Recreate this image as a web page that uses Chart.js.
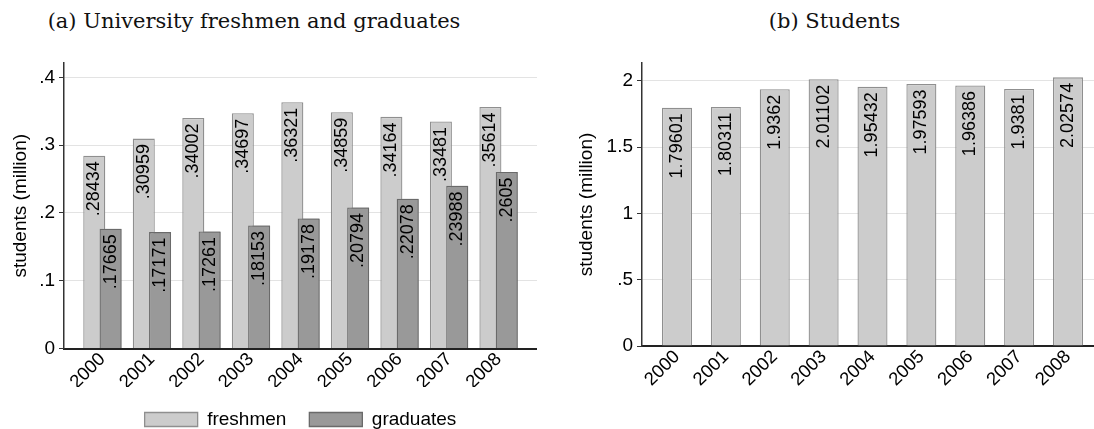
<!DOCTYPE html>
<html><head><meta charset="utf-8">
<script src="https://cdn.jsdelivr.net/npm/chart.js@4.4.1/dist/chart.umd.min.js"></script>
<style>
html,body{margin:0;padding:0;width:1094px;height:429px;overflow:hidden;background:#fff;}
#wrap{position:relative;width:1094px;height:429px;overflow:hidden;}
canvas{position:absolute;top:0;}
.ttl{position:absolute;width:600px;text-align:center;font-family:"DejaVu Serif",serif;font-size:21px;line-height:24px;color:#111;white-space:nowrap;}
</style></head><body>
<div id="wrap">
<div class="ttl" style="left:-46px;top:9px">(a) University freshmen and graduates</div>
<div class="ttl" style="left:534.5px;top:9px">(b) Students</div>
<canvas id="c1" width="537" height="439" style="left:0"></canvas>
<canvas id="c2" width="556" height="429" style="left:547px"></canvas>
</div>
<script>
// ---- data ----
const years = [2000, 2001, 2002, 2003, 2004, 2005, 2006, 2007, 2008];
const freshmen = [0.28434, 0.30959, 0.34002, 0.34697, 0.36321, 0.34859, 0.34164, 0.33481, 0.35614];
const graduates = [0.17665, 0.17171, 0.17261, 0.18153, 0.19178, 0.20794, 0.22078, 0.23988, 0.2605];
const students = [1.79601, 1.80311, 1.9362, 2.01102, 1.95432, 1.97593, 1.96386, 1.9381, 2.02574];
const yTicksA = [0, 0.1, 0.2, 0.3, 0.4];
const yTicksB = [0, 0.5, 1, 1.5, 2];
const seriesNames = ['freshmen', 'graduates'];
const yTitle = 'students (million)';

// ---- helpers ----
const FONT = '"Liberation Sans", Arial, sans-serif';
const fmt = v => String(v).replace(/^0\./, '.');
const pairs = vals => years.map((y, i) => ({x: y, y: vals[i]}));

// Redraws later datasets on top (Chart.js paints dataset 0 last), then writes the value labels.
function valueLabels(offset, size) {
  return {
    id: 'valueLabels',
    afterDatasetsDraw(chart) {
      const ctx = chart.ctx;
      const area = chart.chartArea;
      for (let di = 1; di < chart.data.datasets.length; di++) {
        chart.getDatasetMeta(di).data.forEach(el => el.draw(ctx, area));
      }
      ctx.save();
      ctx.font = size + 'px ' + FONT;
      ctx.fillStyle = '#000';
      ctx.textAlign = 'right';
      ctx.textBaseline = 'middle';
      chart.data.datasets.forEach((ds, di) => {
        const meta = chart.getDatasetMeta(di);
        meta.data.forEach((bar, i) => {
          ctx.save();
          ctx.translate(bar.x, bar.y + offset);
          ctx.rotate(-Math.PI / 2);
          ctx.fillText(fmt(ds.data[i].y), 0, 0);
          ctx.restore();
        });
      });
      ctx.restore();
    }
  };
}

function xScale(min, max, height) {
  return {
    type: 'linear', min: min, max: max, offset: false,
    afterBuildTicks: s => { s.ticks = years.map(v => ({value: v})); },
    afterFit: s => { s.height = height; s.paddingLeft = 0; s.paddingRight = 0; },
    grid: {display: true, drawOnChartArea: false, drawTicks: false, offset: false},
    border: {display: true, color: '#222', width: 2},
    ticks: {autoSkip: false, minRotation: 45, maxRotation: 45, padding: 0, color: '#000',
            font: {family: FONT, size: 18.5}, callback: v => String(v)}
  };
}
function yScale(max, ticks, width, titlePad) {
  return {
    min: 0, max: max,
    afterBuildTicks: s => { s.ticks = ticks.map(v => ({value: v})); },
    afterFit: s => { s.width = width; s.paddingTop = 0; s.paddingBottom = 0; },
    grid: {color: '#e3e3e3', lineWidth: 1, tickColor: '#333', tickLength: 5, drawTicks: true},
    border: {display: true, color: '#333', width: 1.5},
    ticks: {padding: 4, color: '#000', font: {family: FONT, size: 19}, callback: v => fmt(v)},
    title: {display: true, text: yTitle, color: '#000', font: {family: FONT, size: 19},
            padding: {top: titlePad, bottom: 0}}
  };
}

// ---- chart (a) ----
new Chart(document.getElementById('c1'), {
  type: 'bar',
  data: {
    datasets: [
      {label: seriesNames[0], data: pairs(freshmen), backgroundColor: '#cccccc', borderColor: '#8f8f8f', borderWidth: 1.3},
      {label: seriesNames[1], data: pairs(graduates), backgroundColor: '#999999', borderColor: '#6a6a6a', borderWidth: 1.3}
    ]
  },
  options: {
    responsive: false, animation: false, devicePixelRatio: 1, events: [],
    layout: {padding: {top: 63, left: 0, right: 0, bottom: 0}},
    datasets: {bar: {categoryPercentage: 0.659, barPercentage: 1.35}},
    scales: {
      x: xScale(1999.224, 2008.776, 38.5),
      y: yScale(0.4211, yTicksA, 64, 9.6)
    },
    plugins: {
      tooltip: {enabled: false},
      title: {display: false},
      legend: {
        display: true, position: 'bottom', fullSize: false,
        labels: {boxWidth: 53, boxHeight: 14, padding: 23, color: '#000', font: {family: FONT, size: 19}}
      }
    }
  },
  plugins: [valueLabels(5.5, 18)]
});

// ---- chart (b) ----
new Chart(document.getElementById('c2'), {
  type: 'bar',
  data: {
    datasets: [
      {label: 'students', data: pairs(students), backgroundColor: '#cccccc', borderColor: '#8f8f8f', borderWidth: 1.3}
    ]
  },
  options: {
    responsive: false, animation: false, devicePixelRatio: 1, events: [],
    layout: {padding: {top: 63, left: 0, right: 0, bottom: 0}},
    datasets: {bar: {categoryPercentage: 1, barPercentage: 0.614}},
    scales: {
      x: xScale(1999.284, 2008.716, 83),
      y: yScale(2.134, yTicksB, 95, 28.6)
    },
    plugins: {
      tooltip: {enabled: false},
      title: {display: false},
      legend: {display: false}
    }
  },
  plugins: [valueLabels(5.5, 18)]
});
</script>
</body></html>
